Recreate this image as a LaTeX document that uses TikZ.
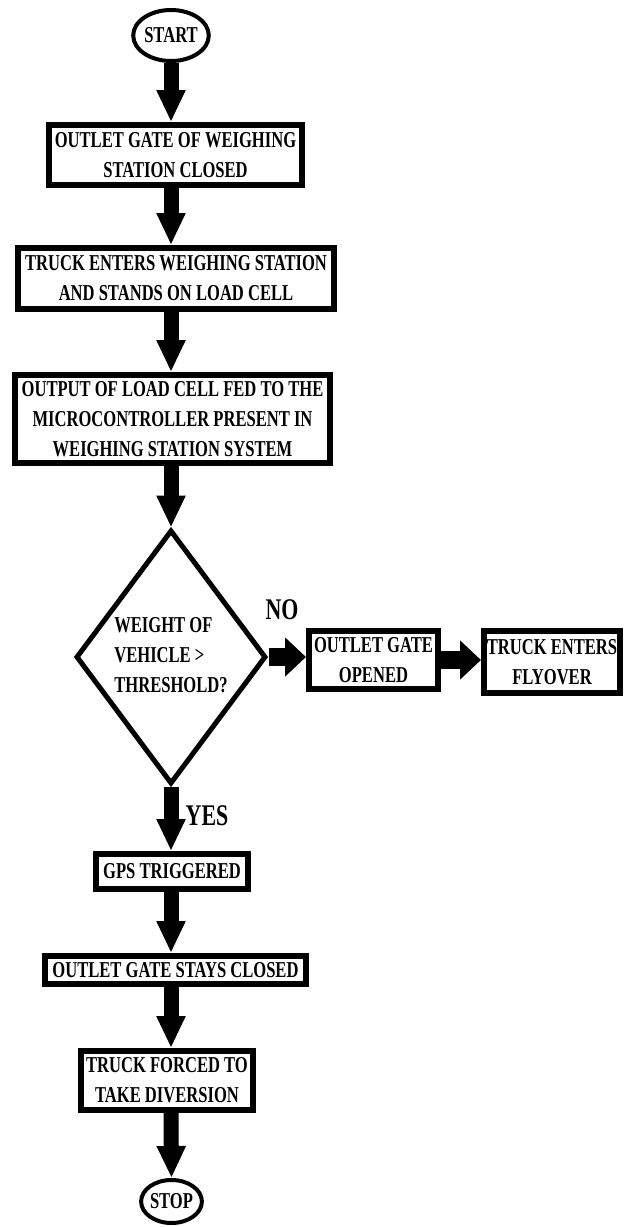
\documentclass[tikz,border=0pt]{standalone}
\usepackage{fontspec}
\newfontfamily\chartfont{Liberation Serif}[FakeStretch=0.73]
\usetikzlibrary{shapes.geometric,arrows.meta}

\begin{document}
\begin{tikzpicture}[x=1pt,y=-1pt,
    every node/.style={font=\chartfont\bfseries\fontsize{22.7}{30}\selectfont},
    box/.style={draw,line width=6pt,align=center,inner sep=2pt},
    terminal/.style={draw,ellipse,line width=4pt,inner sep=0pt},
    decision/.style={draw,diamond,line width=5pt,inner sep=0pt,
        minimum width=190pt,minimum height=254pt},
    tag/.style={font=\chartfont\bfseries\fontsize{30}{34}\selectfont},
    flow/.style={line width=15pt,-{Triangle[length=32pt,width=27pt]}},
    sideflow/.style={line width=18pt,-{Triangle[length=21pt,width=38pt]}}]
    \useasboundingbox (0,0) rectangle (626,1227);

    \node [terminal,minimum width=74pt,minimum height=51pt] (start) at (171,35.5) {START};
    \node [box,minimum width=253pt,minimum height=60pt] (closed) at (175.5,155)
        {OUTLET GATE OF WEIGHING\\STATION CLOSED};
    \node [box,minimum width=316pt,minimum height=61pt] (enters) at (176,278.5)
        {TRUCK ENTERS WEIGHING STATION\\AND STANDS ON LOAD CELL};
    \node [box,minimum width=315pt,minimum height=88pt] (output) at (172.5,419)
        {OUTPUT OF LOAD CELL FED TO THE\\MICROCONTROLLER PRESENT IN\\WEIGHING STATION SYSTEM};
    \node [decision] (weight) at (171,657) {};
    \node [align=left] (weighttext) at (171,655) {WEIGHT OF\\VEHICLE >\\THRESHOLD?};
    \node [box,minimum width=129pt,minimum height=58pt] (opened) at (373.5,660)
        {OUTLET GATE\\OPENED};
    \node [box,minimum width=136pt,minimum height=62pt] (flyover) at (552,662)
        {TRUCK ENTERS\\FLYOVER};
    \node [tag] (no) at (282,610) {NO};
    \node [tag] (yes) at (207,816) {YES};
    \node [box,minimum width=152pt,minimum height=35pt] (gps) at (172,871.5) {GPS TRIGGERED};
    \node [box,minimum width=261pt,minimum height=28pt] (stays) at (175.5,970)
        {OUTLET GATE STAYS CLOSED};
    \node [box,minimum width=172pt,minimum height=59pt] (forced) at (167,1080.5)
        {TRUCK FORCED TO\\TAKE DIVERSION};
    \node [terminal,minimum width=59pt,minimum height=43pt] (stop) at (171.5,1201.5) {STOP};

    \draw [flow] (start.south) -- (closed.north -| start);
    \draw [flow] (closed.south -| start) -- (enters.north -| start);
    \draw [flow] (enters.south -| start) -- (output.north -| start);
    \draw [flow] (output.south -| start) -- (weight.north);
    \draw [sideflow] (weight.east) -- (weight.east -| opened.west);
    \draw [sideflow] (opened.east) -- (opened.east -| flyover.west);
    \draw [flow] (weight.south) -- (gps.north -| weight.south);
    \draw [flow] (gps.south -| start) -- (stays.north -| start);
    \draw [flow] (stays.south -| start) -- (forced.north -| start);
    \draw [flow] (forced.south -| start) -- (stop.north);
\end{tikzpicture}
\end{document}
